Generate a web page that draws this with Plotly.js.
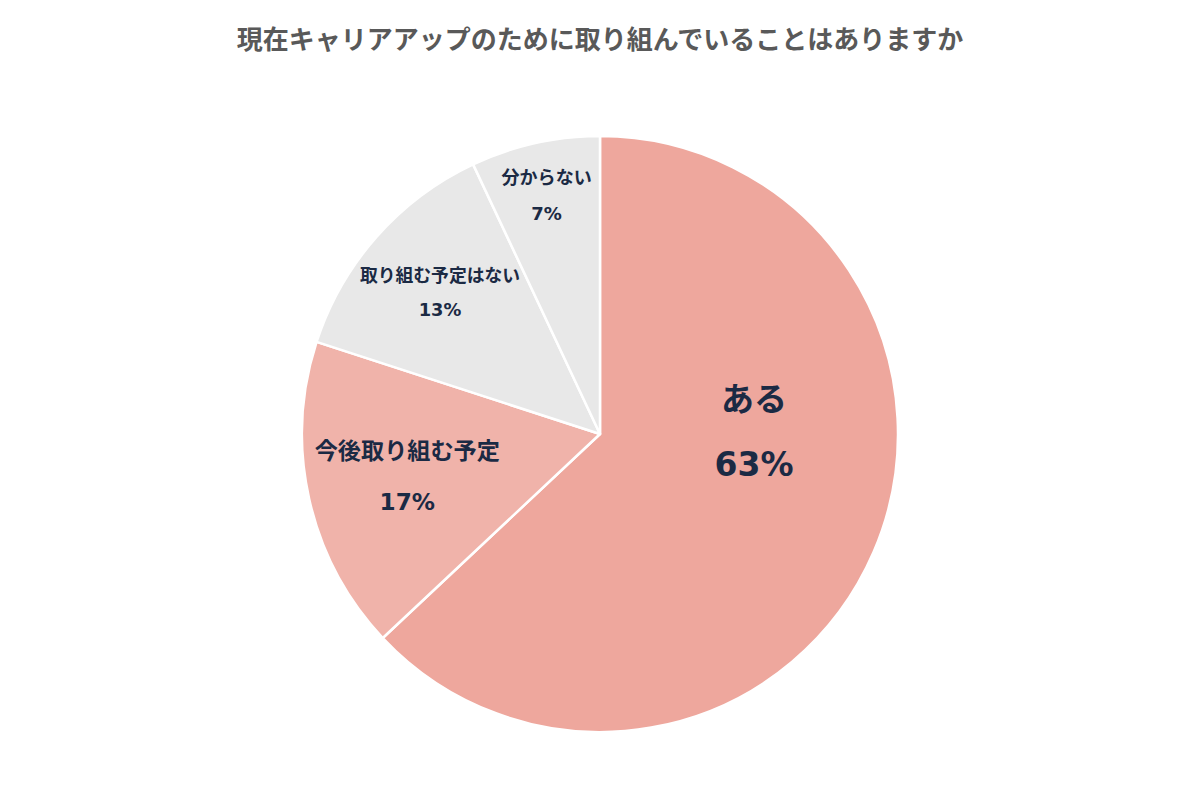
<!DOCTYPE html>
<html><head><meta charset="utf-8">
<script src="https://cdn.plot.ly/plotly-3.0.1.min.js"></script>
<style>html,body{margin:0;padding:0;background:#fff;}#chart{width:1200px;height:800px;}</style>
</head><body><div id="chart"></div>
<script>
const labels = ["ある", "今後取り組む予定", "取り組む予定はない", "分からない"];
const values = [63, 17, 13, 7];
const colors = ["#EEA79D", "#F0B3AA", "#E8E8E8", "#E8E8E8"];
const labelSizes = [33, 24, 22, 19];
const lineGaps = [65, 53, 43, 38];
const trailLines = [2, 0, 0, 0];
const leadSpaces = [3, 0, 0, 0];
const titleText = "現在キャリアアップのために取り組んでいることはありますか";

const font = '"DejaVu Sans", "Noto Sans CJK JP", sans-serif';
const templates = labelSizes.map((s, i) => {
  const sp = "<span style='font-size:" + s + "px'>";
  const pad = "&nbsp;".repeat(leadSpaces[i]);
  let t = "<b>" + sp + pad + "%{label}</span><br>" + sp + pad + "%{value}%</span></b>";
  for (let k = 0; k < trailLines[i]; k++) t += "<br><span style='font-size:1px'>&nbsp;</span>";
  return t;
});
const trace = {
  type: "pie",
  labels: labels,
  values: values,
  sort: false,
  direction: "clockwise",
  rotation: 0,
  marker: {colors: colors, line: {color: "#ffffff", width: 2.5}},
  texttemplate: templates,
  textposition: "inside",
  insidetextorientation: "horizontal",
  textfont: {family: font, size: lineGaps.map(g => g / 1.3), color: "#1B2A44"},
  hoverinfo: "none",
  showlegend: false
};
const layout = {
  width: 1200, height: 800,
  margin: {t: 136, b: 68, l: 80, r: 80},
  paper_bgcolor: "#fff",
  title: {text: "<b>" + titleText + "</b>", x: 0.5, xanchor: "center", y: 0.95, yanchor: "middle",
    font: {family: font, size: 26, color: "#595959"}}
};
Plotly.newPlot("chart", [trace], layout, {staticPlot: true});
</script></body></html>
